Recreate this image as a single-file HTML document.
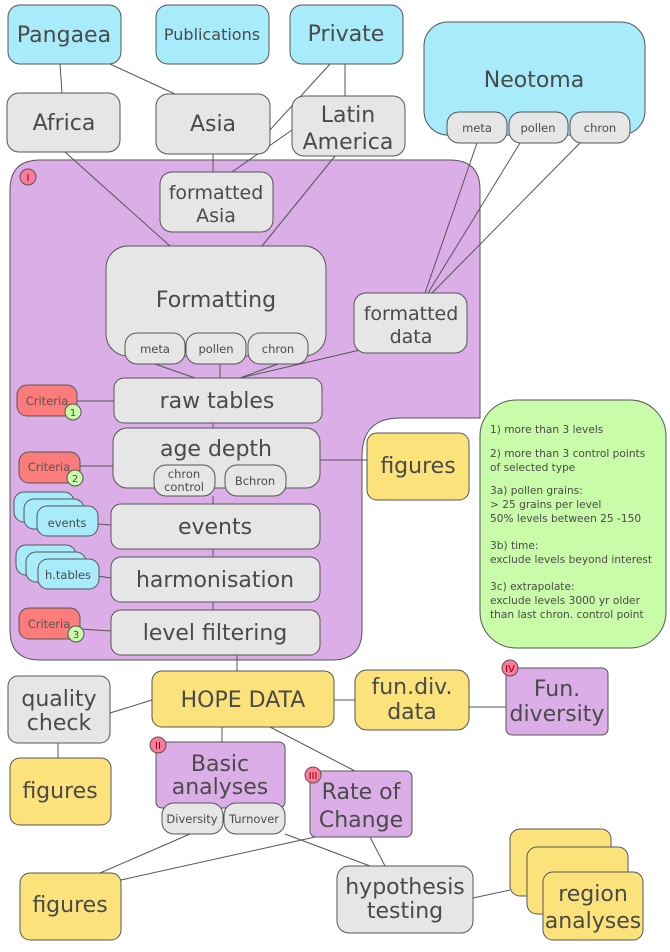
<!DOCTYPE html>
<html><head><meta charset="utf-8"><style>
html,body{margin:0;padding:0;background:#fff}
svg text{font-family:"DejaVu Sans","Liberation Sans",sans-serif;fill:#4a4a4a;text-anchor:middle}
</style></head><body>
<svg width="670" height="947" viewBox="0 0 670 947" xmlns="http://www.w3.org/2000/svg">
<!-- purple container -->
<path d="M40,160 H450 Q480,160 480,190 V418 H400 Q362,418 362,456 V630 Q362,660 332,660 H40 Q10,660 10,630 V190 Q10,160 40,160 Z" fill="#dbaee8" stroke="#555"/>
<g stroke="#555" stroke-width="1" fill="none">
<line x1="60" y1="64" x2="62" y2="93"/>
<line x1="110" y1="64" x2="175" y2="94"/>
<line x1="330" y1="64" x2="270" y2="130"/>
<line x1="345" y1="64" x2="345" y2="96"/>
<line x1="65" y1="152" x2="170" y2="246"/>
<line x1="213" y1="154" x2="213" y2="172"/>
<line x1="292" y1="130" x2="232" y2="172"/>
<line x1="335" y1="156" x2="262" y2="246"/>
<line x1="477" y1="143" x2="425" y2="293"/>
<line x1="520" y1="143" x2="428" y2="293"/>
<line x1="580" y1="143" x2="432" y2="293"/>
<line x1="360" y1="350" x2="240" y2="378"/>
<line x1="155" y1="364" x2="195" y2="378"/>
<line x1="220" y1="364" x2="220" y2="378"/>
<line x1="278" y1="364" x2="240" y2="378"/>
<line x1="213" y1="423" x2="213" y2="428"/>
<line x1="320" y1="460" x2="367" y2="460"/>
<line x1="213" y1="496" x2="213" y2="504"/>
<line x1="213" y1="549" x2="213" y2="557"/>
<line x1="213" y1="602" x2="213" y2="610"/>
<line x1="237" y1="655" x2="237" y2="671"/>
<line x1="77" y1="401" x2="114" y2="401"/>
<line x1="80" y1="466" x2="113" y2="466"/>
<line x1="98" y1="524" x2="111" y2="525"/>
<line x1="98" y1="576" x2="111" y2="578"/>
<line x1="80" y1="629" x2="111" y2="631"/>
<line x1="152" y1="700" x2="110" y2="713"/>
<line x1="58" y1="743" x2="58" y2="758"/>
<line x1="334" y1="700" x2="355" y2="700"/>
<line x1="469" y1="707" x2="506" y2="707"/>
<line x1="222" y1="727" x2="222" y2="742"/>
<line x1="270" y1="727" x2="355" y2="771"/>
<line x1="190" y1="834" x2="100" y2="873"/>
<line x1="315" y1="837" x2="121" y2="880"/>
<line x1="285" y1="834" x2="370" y2="866"/>
<line x1="370" y1="837" x2="385" y2="866"/>
<line x1="473" y1="898" x2="510" y2="890"/>
</g>
<g stroke="#555" stroke-width="1">
<rect x="8" y="5" width="113" height="59" rx="12" fill="#a8ecfc"/>
<rect x="156" y="5" width="113" height="59" rx="12" fill="#a8ecfc"/>
<rect x="290" y="5" width="113" height="59" rx="12" fill="#a8ecfc"/>
<rect x="424" y="22" width="221" height="113" rx="24" fill="#a8ecfc"/>
<rect x="447" y="112" width="60" height="31" rx="12" fill="#e6e6e6"/>
<rect x="509" y="112" width="59" height="31" rx="12" fill="#e6e6e6"/>
<rect x="570" y="112" width="60" height="31" rx="12" fill="#e6e6e6"/>
<rect x="7" y="93" width="113" height="59" rx="12" fill="#e6e6e6"/>
<rect x="156" y="94" width="114" height="60" rx="12" fill="#e6e6e6"/>
<rect x="292" y="96" width="113" height="60" rx="12" fill="#e6e6e6"/>
<rect x="160" y="172" width="113" height="60" rx="12" fill="#e6e6e6"/>
<rect x="106" y="246" width="220" height="110" rx="22" fill="#e6e6e6"/>
<rect x="125" y="333" width="60" height="31" rx="12" fill="#e6e6e6"/>
<rect x="186" y="333" width="60" height="31" rx="12" fill="#e6e6e6"/>
<rect x="248" y="333" width="60" height="31" rx="12" fill="#e6e6e6"/>
<rect x="354" y="293" width="113" height="60" rx="12" fill="#e6e6e6"/>
<rect x="114" y="378" width="208" height="45" rx="10" fill="#e6e6e6"/>
<rect x="113" y="428" width="207" height="60" rx="14" fill="#e6e6e6"/>
<rect x="154" y="465" width="61" height="31" rx="12" fill="#e6e6e6"/>
<rect x="225" y="465" width="61" height="31" rx="12" fill="#e6e6e6"/>
<rect x="111" y="504" width="209" height="45" rx="10" fill="#e6e6e6"/>
<rect x="111" y="557" width="209" height="45" rx="10" fill="#e6e6e6"/>
<rect x="111" y="610" width="209" height="45" rx="10" fill="#e6e6e6"/>
<rect x="17" y="385" width="60" height="31" rx="10" fill="#fc7b7b"/>
<rect x="19" y="452" width="61" height="31" rx="10" fill="#fc7b7b"/>
<rect x="19" y="608" width="61" height="31" rx="10" fill="#fc7b7b"/>
<circle cx="73" cy="412" r="8" fill="#c8fca8"/>
<circle cx="75" cy="478" r="8" fill="#c8fca8"/>
<circle cx="76" cy="634" r="8" fill="#c8fca8"/>
<rect x="14" y="492" width="60" height="30" rx="10" fill="#a8ecfc"/>
<rect x="24" y="499" width="60" height="30" rx="10" fill="#a8ecfc"/>
<rect x="37" y="506" width="61" height="30" rx="10" fill="#a8ecfc"/>
<rect x="16" y="545" width="60" height="30" rx="10" fill="#a8ecfc"/>
<rect x="26" y="552" width="60" height="30" rx="10" fill="#a8ecfc"/>
<rect x="38" y="559" width="61" height="30" rx="10" fill="#a8ecfc"/>
<rect x="367" y="433" width="102" height="67" rx="10" fill="#fce27b"/>
<rect x="152" y="671" width="182" height="56" rx="10" fill="#fce27b"/>
<rect x="355" y="670" width="114" height="60" rx="12" fill="#fce27b"/>
<rect x="10" y="758" width="101" height="67" rx="10" fill="#fce27b"/>
<rect x="20" y="873" width="101" height="67" rx="10" fill="#fce27b"/>
<rect x="510" y="829" width="101" height="67" rx="10" fill="#fce27b"/>
<rect x="527" y="847" width="101" height="67" rx="10" fill="#fce27b"/>
<rect x="543" y="872" width="100" height="68" rx="10" fill="#fce27b"/>
<rect x="8" y="676" width="102" height="67" rx="10" fill="#e6e6e6"/>
<rect x="337" y="866" width="136" height="67" rx="12" fill="#e6e6e6"/>
<rect x="506" y="668" width="102" height="67" rx="6" fill="#dbaee8"/>
<rect x="156" y="742" width="129" height="66" rx="6" fill="#dbaee8"/>
<rect x="310" y="771" width="102" height="66" rx="6" fill="#dbaee8"/>
<rect x="162" y="803" width="61" height="31" rx="12" fill="#e6e6e6"/>
<rect x="224" y="803" width="61" height="31" rx="12" fill="#e6e6e6"/>
<rect x="480" y="400" width="186" height="248" rx="36" fill="#c8fca8"/>
<circle cx="28" cy="177" r="8" fill="#fc7b9b"/>
<circle cx="158" cy="745" r="8" fill="#fc7b9b"/>
<circle cx="313" cy="775" r="8" fill="#fc7b9b"/>
<circle cx="510" cy="668" r="8" fill="#fc7b9b"/>
</g>
<g font-size="22">
<text x="64" y="42">Pangaea</text>
<text x="346" y="41">Private</text>
<text x="534" y="87">Neotoma</text>
<text x="64" y="130">Africa</text>
<text x="213" y="131">Asia</text>
<text x="348" y="122">Latin</text>
<text x="348" y="149">America</text>
<text x="216" y="199" font-size="19">formatted</text>
<text x="216" y="222" font-size="19">Asia</text>
<text x="216" y="307">Formatting</text>
<text x="411" y="320" font-size="19">formatted</text>
<text x="411" y="343" font-size="19">data</text>
<text x="217" y="408">raw tables</text>
<text x="216" y="456">age depth</text>
<text x="215" y="534">events</text>
<text x="215" y="587">harmonisation</text>
<text x="215" y="640">level filtering</text>
<text x="418" y="473">figures</text>
<text x="243" y="707">HOPE DATA</text>
<text x="59" y="706">quality</text>
<text x="59" y="730">check</text>
<text x="412" y="694">fun.div.</text>
<text x="412" y="719">data</text>
<text x="557" y="696">Fun.</text>
<text x="557" y="721">diversity</text>
<text x="60" y="798">figures</text>
<text x="220" y="771">Basic</text>
<text x="220" y="794">analyses</text>
<text x="361" y="799">Rate of</text>
<text x="361" y="827">Change</text>
<text x="70" y="912">figures</text>
<text x="405" y="894">hypothesis</text>
<text x="405" y="918">testing</text>
<text x="593" y="901">region</text>
<text x="593" y="928">analyses</text>
</g>
<text x="212" y="40" font-size="16">Publications</text>
<g font-size="11.5">
<text x="477" y="132">meta</text><text x="538" y="132">pollen</text><text x="600" y="132">chron</text>
<text x="155" y="353">meta</text><text x="216" y="353">pollen</text><text x="278" y="353">chron</text>
<text x="184" y="478">chron</text><text x="184" y="491">control</text>
<text x="255" y="485">Bchron</text>
<text x="67" y="527">events</text>
<text x="68" y="579">h.tables</text>
<text x="192" y="823">Diversity</text>
<text x="254" y="823">Turnover</text>
</g>
<g font-size="11.5">
<text x="47" y="405" style="fill:#555">Criteria</text>
<text x="49" y="471" style="fill:#555">Criteria</text>
<text x="49" y="628" style="fill:#555">Criteria</text>
</g>
<g font-size="10">
<text x="73" y="416">1</text><text x="75" y="482">2</text><text x="76" y="638">3</text>
<text x="28" y="181" style="fill:#800">I</text>
<text x="158" y="749" style="fill:#800">II</text>
<text x="313" y="779" style="fill:#800">III</text>
<text x="510" y="672" style="fill:#800">IV</text>
</g>
<g font-size="10.6">
<text x="490" y="433" style="text-anchor:start">1) more than 3 levels</text>
<text x="490" y="457" style="text-anchor:start">2) more than 3 control points</text>
<text x="490" y="471" style="text-anchor:start">of selected type</text>
<text x="490" y="494" style="text-anchor:start">3a) pollen grains:</text>
<text x="490" y="508" style="text-anchor:start">&gt; 25 grains per level</text>
<text x="490" y="522" style="text-anchor:start">50% levels between 25 -150</text>
<text x="490" y="549" style="text-anchor:start">3b) time:</text>
<text x="490" y="563" style="text-anchor:start">exclude levels beyond interest</text>
<text x="490" y="590" style="text-anchor:start">3c) extrapolate:</text>
<text x="490" y="604" style="text-anchor:start">exclude levels 3000 yr older</text>
<text x="490" y="618" style="text-anchor:start">than last chron. control point</text>
</g>
</svg>
</body></html>
